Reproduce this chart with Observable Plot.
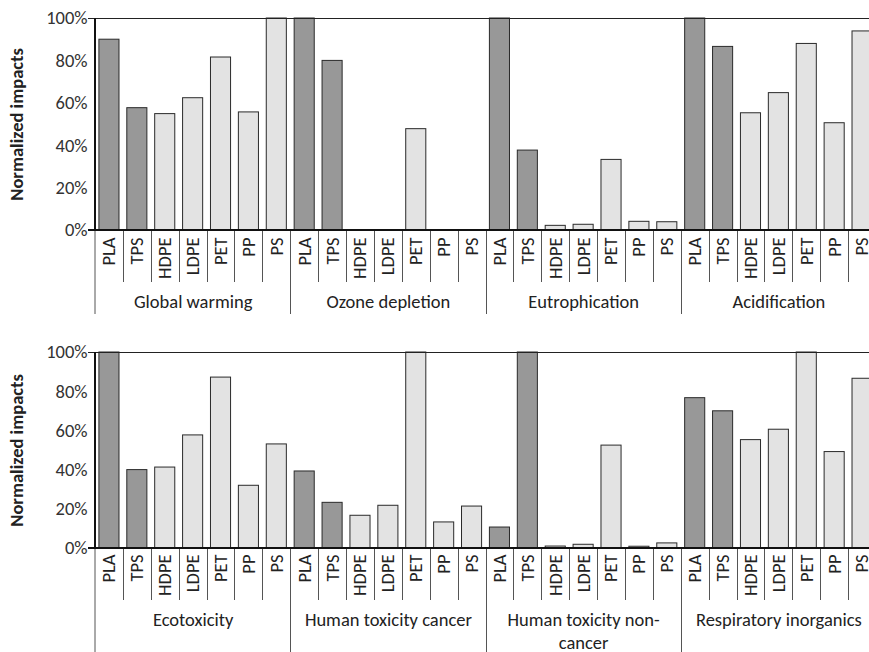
<!DOCTYPE html>
<html><head><meta charset="utf-8">
<script src="https://cdn.jsdelivr.net/npm/d3@7"></script>
<script src="https://cdn.jsdelivr.net/npm/@observablehq/plot@0.6"></script>
<style>
html,body{margin:0;padding:0;background:#fff;overflow:hidden;width:869px;height:652px;position:relative;}
#top{position:absolute;left:0;top:0;width:880px}
#bot{position:absolute;left:0;top:330px;width:880px}
svg{overflow:visible;max-width:none !important}
</style></head><body><div id="top"></div><div id="bot"></div>
<script>
const materials = ["PLA", "TPS", "HDPE", "LDPE", "PET", "PP", "PS"];
const bioBased = ["PLA", "TPS"];
const yTicks = [0, 0.2, 0.4, 0.6, 0.8, 1];
const yTitle = "Normalized impacts";

const topCategories = ["Global warming", "Ozone depletion", "Eutrophication", "Acidification"];
const topLabels = ["Global warming", "Ozone depletion", "Eutrophication", "Acidification"];
const globalWarming  = [0.90, 0.577, 0.549, 0.624, 0.816, 0.557, 1.00];
const ozoneDepletion = [1.00, 0.80, 0, 0, 0.478, 0, 0];
const eutrophication = [1.00, 0.377, 0.022, 0.027, 0.333, 0.041, 0.039];
const acidification  = [1.00, 0.866, 0.553, 0.648, 0.88, 0.506, 0.939];

const bottomCategories = ["Ecotoxicity", "Human toxicity cancer", "Human toxicity non-cancer", "Respiratory inorganics"];
const bottomLabels = ["Ecotoxicity", "Human toxicity cancer", "Human toxicity non-\ncancer", "Respiratory inorganics"];
const ecotoxicity       = [1.00, 0.40, 0.413, 0.577, 0.872, 0.32, 0.531];
const humanToxCancer    = [0.393, 0.233, 0.167, 0.218, 1.00, 0.133, 0.214];
const humanToxNonCancer = [0.107, 1.00, 0.01, 0.019, 0.525, 0.009, 0.026];
const respInorganics    = [0.767, 0.70, 0.553, 0.606, 1.00, 0.492, 0.866];

const FONT = "Carlito, Calibri, Lato, sans-serif";
const DARK = "#989898", LIGHT = "#e3e3e3";

function buildRows(categories, series) {
  const rows = [];
  categories.forEach((c, ci) => materials.forEach((m, mi) => rows.push({
    key: c + "|" + m, category: c, material: m, value: series[ci][mi], start: mi === 0
  })));
  return rows;
}

function decorations(keys, starts, shortLen, longLen) {
  return (index, scales, values, dimensions) => {
    const x = scales.x, y = scales.y;
    const bw = typeof x.bandwidth === "function" ? x.bandwidth() : x.bandwidth;
    const step = x(keys[1]) - x(keys[0]);
    const y0 = Math.round(y(0)), y1 = Math.round(y(1));
    const left = dimensions.marginLeft;
    const right = dimensions.width - dimensions.marginRight;
    const g = d3.create("svg:g");
    keys.forEach((k, i) => {
      if (i === 0) return;
      const bx = Math.round(x(k) + bw / 2 - step / 2) + 0.5;
      g.append("line").attr("x1", bx).attr("x2", bx).attr("y1", y0).attr("y2", y0 + (starts[i] ? longLen : shortLen))
        .attr("stroke", "#555").attr("stroke-width", 1);
    });
    g.append("line").attr("x1", left).attr("x2", left).attr("y1", y0).attr("y2", y0 + longLen)
      .attr("stroke", "#555").attr("stroke-width", 1);
    g.append("line").attr("x1", left - 7).attr("x2", right).attr("y1", y1 + 0.5).attr("y2", y1 + 0.5)
      .attr("stroke", "#222").attr("stroke-width", 1);
    g.append("line").attr("x1", left).attr("x2", left).attr("y1", y1).attr("y2", y0 + 1)
      .attr("stroke", "#111").attr("stroke-width", 2);
    g.append("line").attr("x1", left - 7).attr("x2", right).attr("y1", y0).attr("y2", y0)
      .attr("stroke", "#111").attr("stroke-width", 2);
    return g.node();
  };
}

function panel(categories, labels, series, opts) {
  const rows = buildRows(categories, series);
  const keys = rows.map(d => d.key);
  const starts = rows.map(d => d.start);
  const groupRows = categories.map((c, i) => ({key: c + "|" + materials[3], label: labels[i]}));
  return Plot.plot({
    width: 880,
    height: opts.height,
    marginLeft: 95,
    marginRight: 4,
    marginTop: opts.marginTop,
    marginBottom: opts.marginBottom,
    style: {fontFamily: FONT, background: "transparent", overflow: "visible", maxWidth: "none"},
    x: {type: "band", domain: keys, paddingInner: 0.28, paddingOuter: 0.14, round: false, axis: null},
    y: {domain: [0, 1], axis: null},
    marks: [
      Plot.barY(rows, {x: "key", y: "value", fill: d => bioBased.includes(d.material) ? DARK : LIGHT,
        stroke: "#2a2a2a", strokeWidth: 1}),
      Plot.axisY(yTicks, {label: null, tickSize: 0, tickPadding: 8, tickFormat: d3.format(".0%"), fontSize: 18.5, fill: "#333", stroke: null}),
      decorations(keys, starts, opts.shortLen, opts.longLen),
      Plot.text(rows, {x: "key", y: () => 0, text: "material", rotate: -90, textAnchor: "end", lineAnchor: "middle",
        dy: opts.labelDy, fontSize: 18.5, fill: "#222"}),
      Plot.text(groupRows, {x: "key", y: () => 0, text: "label", lineAnchor: "top", dy: opts.groupDy,
        fontSize: 18.5, fill: "#222", lineHeight: 1.25}),
      Plot.text([yTitle], {frameAnchor: "left", rotate: -90, textAnchor: "middle", dx: -78, fontWeight: "bold", fontSize: 18.5, fill: "#222"})
    ]
  });
}

document.getElementById("top").append(panel(topCategories, topLabels,
  [globalWarming, ozoneDepletion, eutrophication, acidification],
  {height: 325, marginTop: 18, marginBottom: 95, shortLen: 52, longLen: 84, labelDy: 7, groupDy: 61}));
document.getElementById("bot").append(panel(bottomCategories, bottomLabels,
  [ecotoxicity, humanToxCancer, humanToxNonCancer, respInorganics],
  {height: 322, marginTop: 22, marginBottom: 104, shortLen: 52, longLen: 110, labelDy: 6, groupDy: 61}));
</script>
</body></html>
